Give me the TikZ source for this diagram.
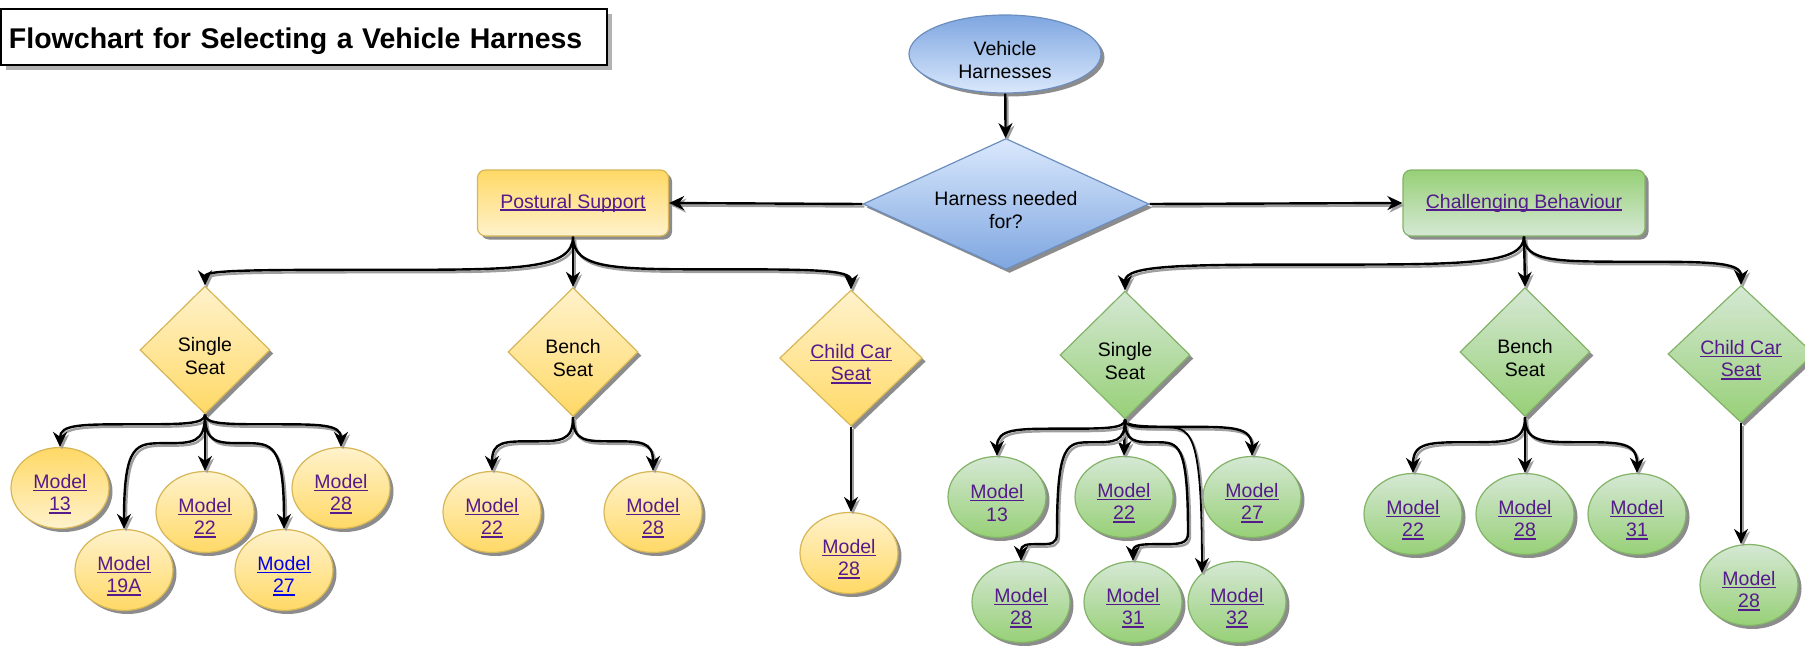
\documentclass[tikz,border=0pt]{standalone}
\usepackage{fontspec}
\setmainfont{Liberation Sans}
\usetikzlibrary{shapes.geometric,shadows,calc,arrows.meta}

\definecolor{ylwdark}{HTML}{FFD966}
\definecolor{ylwlight}{HTML}{FFF2CC}
\definecolor{ylwline}{HTML}{D6B656}
\definecolor{grndark}{HTML}{97D077}
\definecolor{grnlight}{HTML}{D5E8D4}
\definecolor{grnline}{HTML}{82B366}
\definecolor{bludark}{HTML}{7EA6E0}
\definecolor{blulight}{HTML}{DAE8FC}
\definecolor{bluline}{HTML}{6C8EBF}
\definecolor{visited}{HTML}{551A8B}
\definecolor{fresh}{HTML}{0000EE}

% underlined hyperlink look
\newcommand\hlink[2][visited]{{\color{#1}\setbox0\hbox{#2}\rlap{\rule[-2.6pt]{\wd0}{1.3pt}}\box0}}
% pushes two-line texts a little down, as the original does
\newcommand\sink{\rule{0pt}{26pt}}

\tikzset{
  chartnode/.style={font=\fontsize{19.5}{22.5}\selectfont, align=center, inner sep=0pt, line width=1.2pt,
    drop shadow={shadow xshift=3.5pt, shadow yshift=-3.5pt, fill=black!50, opacity=.9}},
  modelnode/.style={chartnode, ellipse, minimum width=98, minimum height=81},
  seatnode/.style={chartnode, diamond, aspect=1.2, minimum width=130, minimum height=128},
  groupnode/.style={chartnode, rectangle, rounded corners=8pt, minimum height=66},
  titlebox/.style={draw=black, line width=2pt, fill=white, minimum width=606, minimum height=56,
    text width=590, align=left, inner xsep=6pt, text height=22pt, text depth=0pt,
    font=\bfseries\fontsize{28.5}{34}\selectfont,
    drop shadow={shadow xshift=5pt, shadow yshift=-5pt, fill=black!30, opacity=1}},
  ylw/.style={draw=ylwline, top color=ylwlight, bottom color=ylwdark},
  ylwflip/.style={draw=ylwline, top color=ylwdark, bottom color=ylwlight},
  grn/.style={draw=grnline, top color=grnlight, bottom color=grndark},
  grnflip/.style={draw=grnline, top color=grndark, bottom color=grnlight},
  blu/.style={draw=bluline, top color=blulight, bottom color=bludark},
  bluflip/.style={draw=bluline, top color=bludark, bottom color=blulight},
  link/.style={line width=#1, -{Stealth[length=15pt,width=14pt]},
    preaction={draw=black!38, line width=#1, transform canvas={shift={(2pt,-2.5pt)}}}},
  link/.default=2.4pt,
  swoop/.style={to path={let \p1=(\tikztostart), \p2=(\tikztotarget),
      \p3=($(\p1)!.5!(\p2)$), \p4=($(\p1)!#1!(\p2)$) in
      .. controls (\x1,\y4) and ($(\x1,\y4)!.3!(\x3,\y4)$) .. (\x3,\y4)
      .. controls ($(\x2,\y4)!.3!(\x3,\y4)$) and (\x2,\y4) .. (\tikztotarget) \tikztonodes}},
  swoop/.default=.5,
}

\begin{document}
\begin{tikzpicture}[x=1pt,y=-1pt]
  \useasboundingbox (0,0) rectangle (1805,648);

  \node[titlebox, anchor=west] (title) at (0,37) {Flowchart for Selecting a Vehicle Harness};

  % top of the chart
  \node[chartnode, ellipse, bluflip, minimum width=192, minimum height=78] (vh) at (1005,54) {\sink Vehicle\\Harnesses};
  \node[chartnode, diamond, aspect=2.2, blu, minimum width=286, minimum height=131] (hn) at (1006,204) {\sink Harness needed\\for?};
  \node[groupnode, ylwflip, minimum width=191] (ps) at (573,203) {\hlink{Postural Support}};
  \node[groupnode, grnflip, minimum width=242] (cb) at (1524,203) {\hlink{Challenging Behaviour}};

  % seats
  \node[seatnode, ylw] (ys) at (205,350) {\sink Single\\Seat};
  \node[seatnode, ylw, minimum height=129] (yb) at (573,352) {\sink Bench\\Seat};
  \node[seatnode, ylw, minimum width=141, minimum height=136] (yc) at (851,358) {\sink\hlink{Child Car}\\\hlink{Seat}};
  \node[seatnode, grn] (gs) at (1125,355) {\sink Single\\Seat};
  \node[seatnode, grn, minimum height=129] (gb) at (1525,352) {\sink Bench\\Seat};
  \node[seatnode, grn, minimum width=146, minimum height=137] (gc) at (1741,354) {\sink\hlink{Child Car}\\\hlink{Seat}};

  % postural support models
  \node[modelnode, ylwflip] (ym13) at (60,488) {\sink\hlink{Model}\\\hlink{13}};
  \node[modelnode, ylw] (ym19) at (124,570) {\sink\hlink{Model}\\\hlink{19A}};
  \node[modelnode, ylw] (ym22) at (205,512) {\sink\hlink{Model}\\\hlink{22}};
  \node[modelnode, ylw] (ym27) at (284,570) {\sink\hlink[fresh]{Model}\\\hlink[fresh]{27}};
  \node[modelnode, ylw] (ym28) at (341,488) {\sink\hlink{Model}\\\hlink{28}};
  \node[modelnode, ylw] (yb22) at (492,512) {\sink\hlink{Model}\\\hlink{22}};
  \node[modelnode, ylw] (yb28) at (653,512) {\sink\hlink{Model}\\\hlink{28}};
  \node[modelnode, ylw] (yc28) at (849,553) {\sink\hlink{Model}\\\hlink{28}};

  % challenging behaviour models
  \node[modelnode, grn] (gm13) at (997,497) {\sink\hlink{Model}\\{\color{visited}13}};
  \node[modelnode, grn] (gm22) at (1124,497) {\sink\hlink{Model}\\\hlink{22}};
  \node[modelnode, grn] (gm27) at (1252,497) {\sink\hlink{Model}\\\hlink{27}};
  \node[modelnode, grn] (gm28) at (1021,602) {\sink\hlink{Model}\\\hlink{28}};
  \node[modelnode, grn] (gm31) at (1133,602) {\sink\hlink{Model}\\\hlink{31}};
  \node[modelnode, grn] (gm32) at (1237,602) {\sink\hlink{Model}\\\hlink{32}};
  \node[modelnode, grn] (gb22) at (1413,514) {\sink\hlink{Model}\\\hlink{22}};
  \node[modelnode, grn] (gb28) at (1525,514) {\sink\hlink{Model}\\\hlink{28}};
  \node[modelnode, grn] (gb31) at (1637,514) {\sink\hlink{Model}\\\hlink{31}};
  \node[modelnode, grn] (gc28) at (1749,585) {\sink\hlink{Model}\\\hlink{28}};

  \coordinate (k28) at (1057,533);
  \coordinate (k31) at (1188,533);

  \draw[link] (vh) -- (hn);
  \draw[link] (hn.west) -- (ps.east);
  \draw[link] (hn.east) -- (cb.west);

  \draw[link] (ps.south) to[swoop=.68] (ys.north);
  \draw[link] (ps.south) -- (yb.north);
  \draw[link] (ps.south) to[swoop=.62] (yc.north);
  \draw[link] (cb.south) to[swoop=.52] (gs.north);
  \draw[link] (cb.south) -- (gb.north);
  \draw[link] (cb.south) to[swoop=.52] (gc.north);

  \draw[link] (ys.south) to[swoop=.3] (ym13.north);
  \draw[link] (ys.south) to[swoop=.25] (ym19.north);
  \draw[link] (ys.south) -- (ym22.north);
  \draw[link] (ys.south) to[swoop=.25] (ym27.north);
  \draw[link] (ys.south) to[swoop=.3] (ym28.north);
  \draw[link] (yb.south) to[swoop=.45] (yb22.north);
  \draw[link] (yb.south) to[swoop=.45] (yb28.north);
  \draw[link=1.6pt] (yc.south) -- (yc.south |- yc28.north);

  \draw[link] (gs.south) to[swoop=.25] (gm13.north);
  \draw[link] (gs.south) -- (gm22.north);
  \draw[link] (gs.south) to[swoop=.2] (gm27.north);
  \draw[link] (gs.south) to[swoop=.2] (k28) to[swoop=.4] (gm28.north);
  \draw[link] (gs.south) to[swoop=.2] (k31) to[swoop=.4] (gm31.north);
  \draw[link=1.8pt] (gs.south) to[swoop=.05] (gm32.north west);
  \draw[link] (gb.south) to[swoop=.45] (gb22.north);
  \draw[link] (gb.south) -- (gb28.north);
  \draw[link] (gb.south) to[swoop=.45] (gb31.north);
  \draw[link=1.6pt] (gc.south) -- (gc.south |- gc28.north);
\end{tikzpicture}
\end{document}
